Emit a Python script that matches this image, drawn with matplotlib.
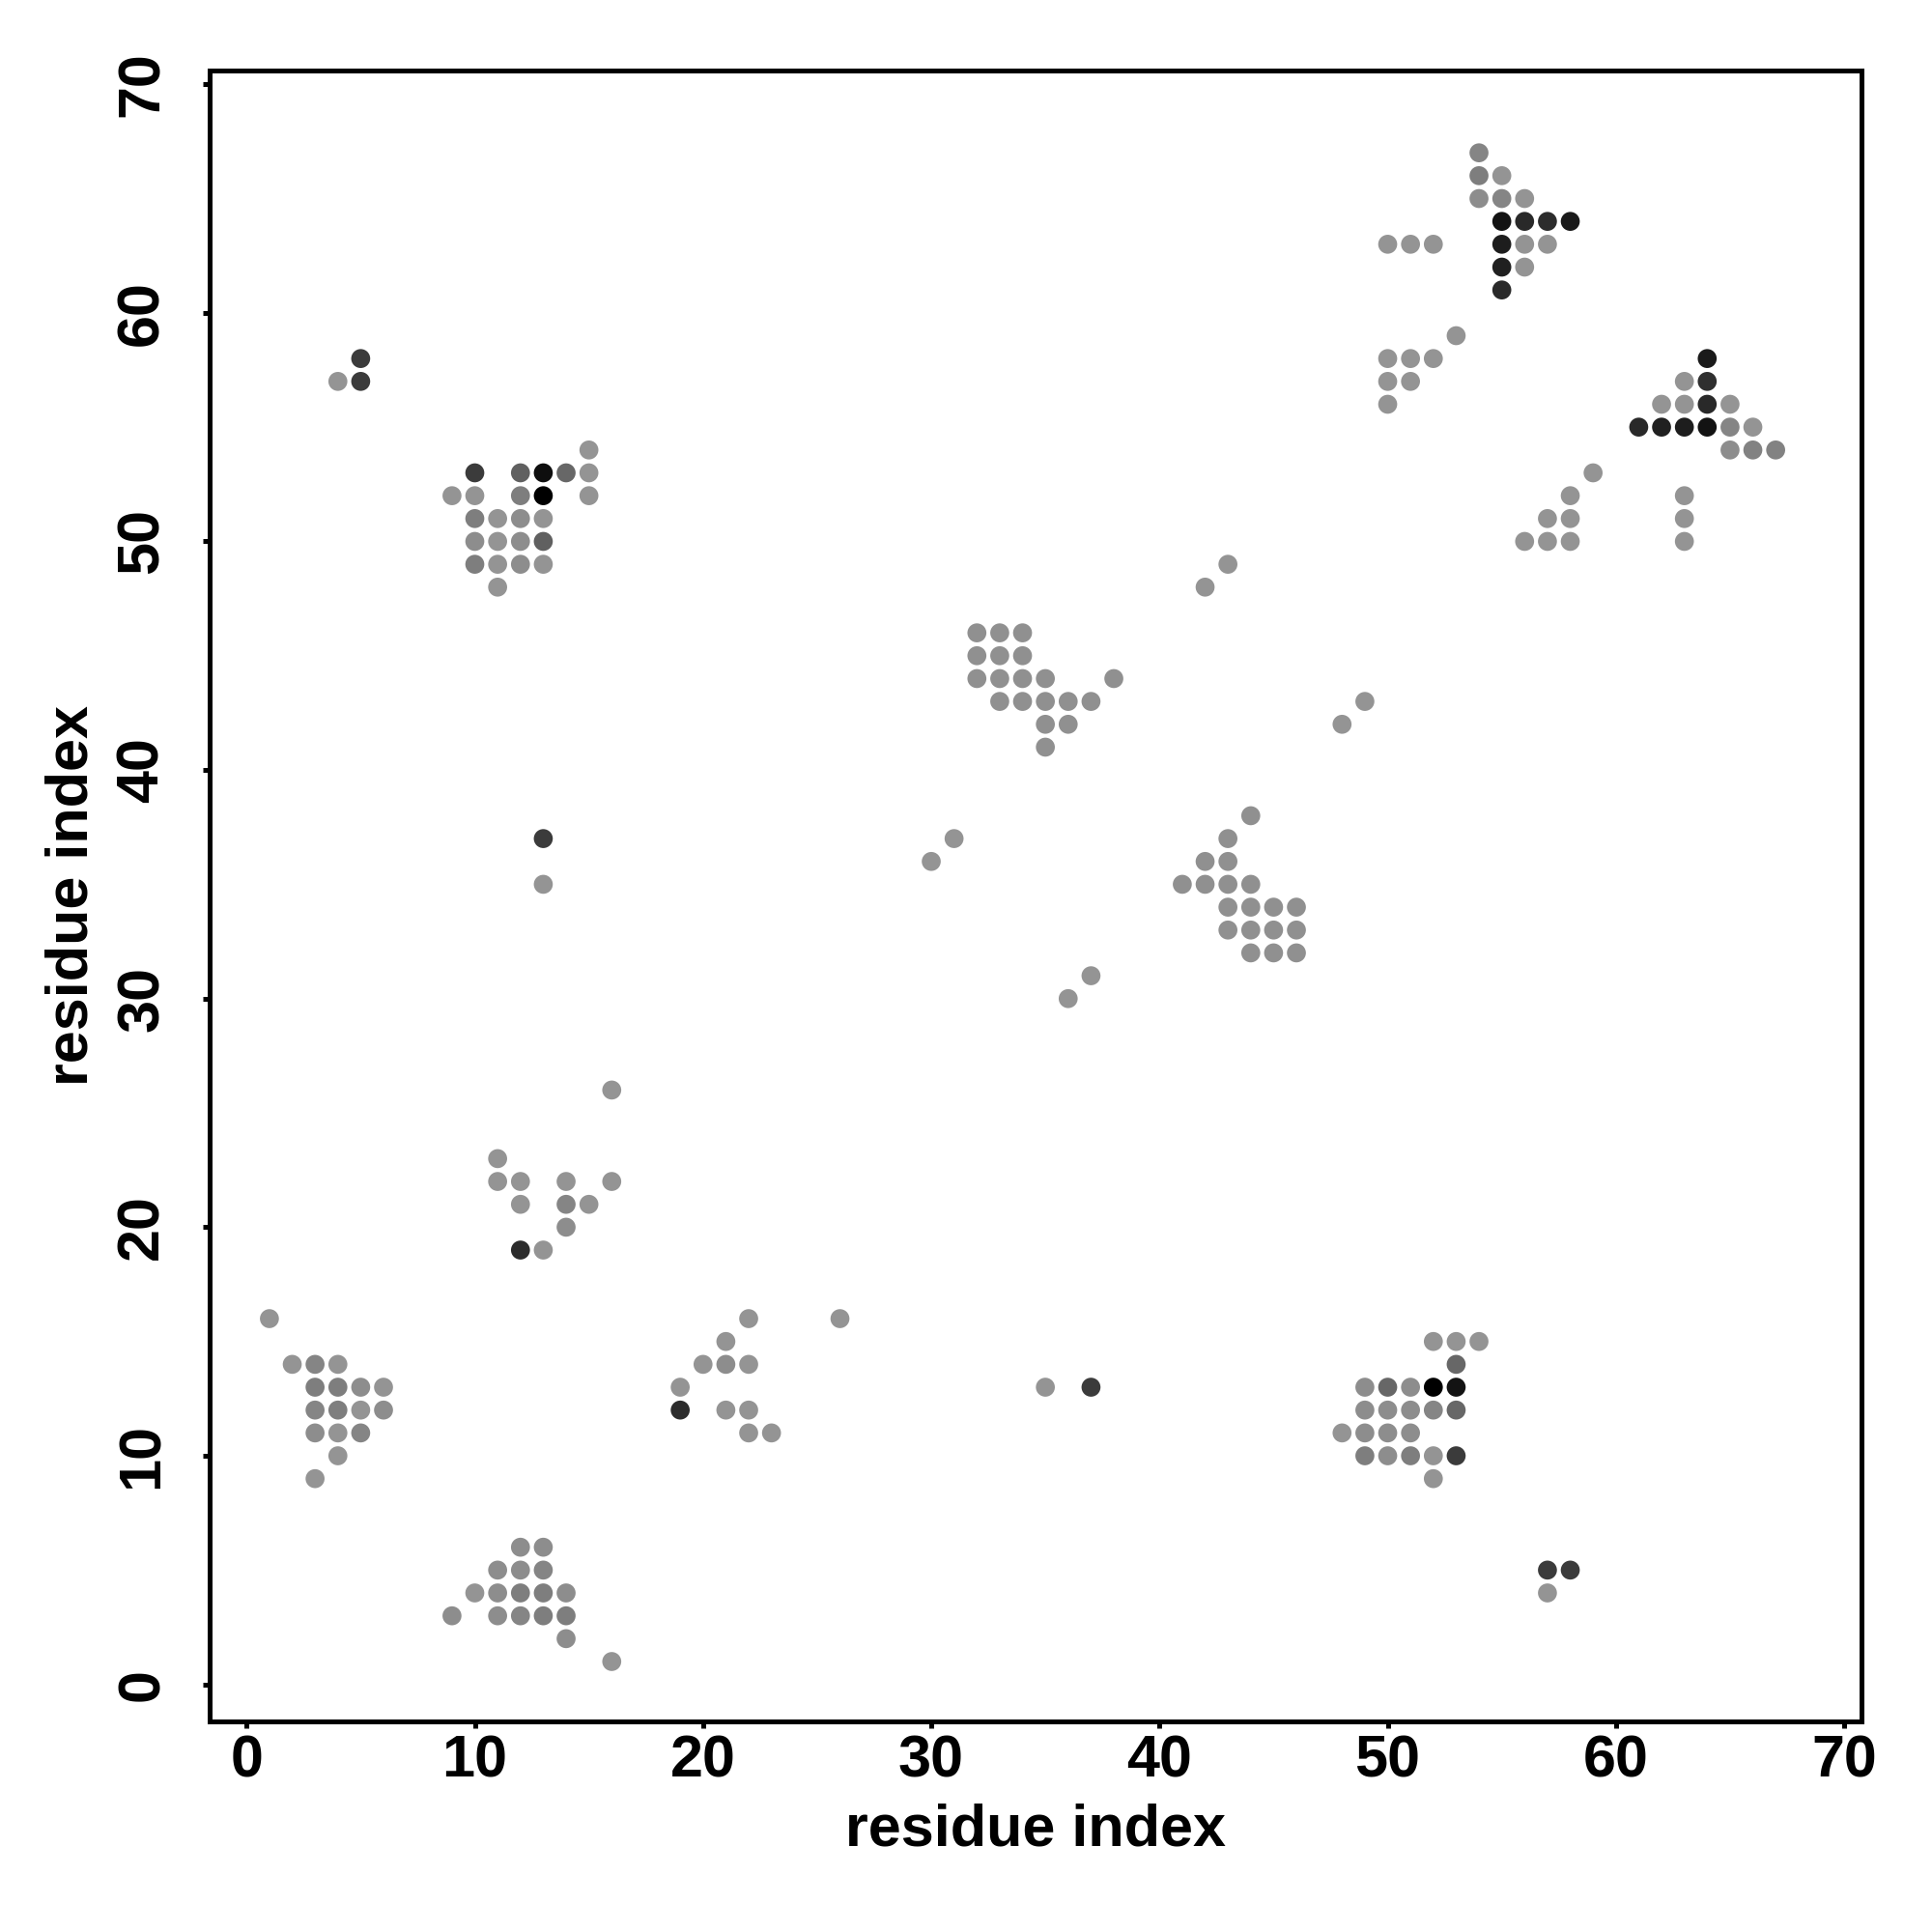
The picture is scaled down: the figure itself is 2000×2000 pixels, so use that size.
import matplotlib
matplotlib.use("Agg")
import matplotlib.pyplot as plt

plt.rcParams["font.family"] = ["Liberation Sans", "DejaVu Sans"]
plt.rcParams["font.weight"] = "bold"

# contact map: residue i, residue j, contact score (0 = weak/grey, 1 = strong/black)
res_i = [
    1, 2, 3, 4, 3, 4, 5, 6, 3, 4, 5, 6, 3, 4, 5, 4, 3,
    12, 13, 11, 12, 13, 10, 11, 12, 13, 14, 9, 11, 12, 13, 14, 14, 16,
    22, 26, 21, 20, 21, 22, 19, 19, 21, 22, 22, 23,
    35, 37,
    52, 53, 54, 53, 49, 50, 51, 52, 53, 49, 50, 51, 52, 53, 48, 49, 50, 51,
    49, 50, 51, 52, 53, 52, 57, 58, 57,
    5, 4, 5, 15, 10, 12, 13, 14, 15, 9, 10, 12, 13, 15, 10, 11, 12, 13,
    10, 11, 12, 13, 10, 11, 12, 13, 11, 13, 13,
    16, 11, 11, 12, 14, 16, 12, 14, 15, 14, 12, 13,
    32, 33, 34, 32, 33, 34, 32, 33, 34, 35, 38, 33, 34, 35, 36, 37, 35, 36, 35,
    44, 43, 42, 43, 41, 42, 43, 44, 43, 44, 45, 46, 43, 44, 45, 46, 44, 45, 46,
    30, 31, 36, 37, 42, 43, 48, 49,
    54, 54, 55, 54, 55, 56, 55, 56, 57, 58, 50, 51, 52, 55, 56, 57, 55, 56, 55,
    53, 50, 51, 52, 50, 51, 50,
    64, 63, 64, 62, 63, 64, 65, 61, 62, 63, 64, 65, 66, 65, 66, 67,
    59, 58, 63, 57, 58, 63, 56, 57, 58, 63,
]
res_j = [
    16, 14, 14, 14, 13, 13, 13, 13, 12, 12, 12, 12, 11, 11, 11, 10, 9,
    6, 6, 5, 5, 5, 4, 4, 4, 4, 4, 3, 3, 3, 3, 3, 2, 1,
    16, 16, 15, 14, 14, 14, 13, 12, 12, 12, 11, 11,
    13, 13,
    15, 15, 15, 14, 13, 13, 13, 13, 13, 12, 12, 12, 12, 12, 11, 11, 11, 11,
    10, 10, 10, 10, 10, 9, 5, 5, 4,
    58, 57, 57, 54, 53, 53, 53, 53, 53, 52, 52, 52, 52, 52, 51, 51, 51, 51,
    50, 50, 50, 50, 49, 49, 49, 49, 48, 37, 35,
    26, 23, 22, 22, 22, 22, 21, 21, 21, 20, 19, 19,
    46, 46, 46, 45, 45, 45, 44, 44, 44, 44, 44, 43, 43, 43, 43, 43, 42, 42, 41,
    38, 37, 36, 36, 35, 35, 35, 35, 34, 34, 34, 34, 33, 33, 33, 33, 32, 32, 32,
    36, 37, 30, 31, 48, 49, 42, 43,
    67, 66, 66, 65, 65, 65, 64, 64, 64, 64, 63, 63, 63, 63, 63, 63, 62, 62, 61,
    59, 58, 58, 58, 57, 57, 56,
    58, 57, 57, 56, 56, 56, 56, 55, 55, 55, 55, 55, 55, 54, 54, 54,
    53, 52, 52, 51, 51, 51, 50, 50, 50, 50,
]
score = [
    0, 0, 0.1, 0, 0.15, 0.15, 0.05, 0, 0.1, 0.15, 0, 0.05, 0.05, 0, 0.1, 0, 0,
    0.05, 0.05, 0.05, 0.05, 0.1, 0, 0.05, 0.15, 0.15, 0.05, 0.05, 0.05, 0.1, 0.15, 0.15, 0.05, 0,
    0, 0, 0, 0, 0.05, 0, 0, 0.7, 0, 0, 0, 0,
    0, 0.6,
    0, 0, 0, 0.3, 0.05, 0.3, 0.05, 1.0, 0.87, 0.05, 0.05, 0.05, 0.1, 0.3, 0, 0.05, 0.05, 0.05,
    0.15, 0.05, 0.15, 0, 0.6, 0, 0.6, 0.6, 0,
    0.6, 0, 0.6, 0, 0.6, 0.35, 0.9, 0.3, 0, 0, 0, 0.15, 1.0, 0, 0.15, 0, 0.05, 0,
    0.05, 0, 0.05, 0.35, 0.15, 0, 0.05, 0, 0, 0.6, 0,
    0, 0, 0, 0, 0, 0, 0, 0.1, 0, 0.05, 0.7, 0,
    0.03, 0.03, 0.03, 0.03, 0.03, 0.03, 0.03, 0.03, 0.03, 0.03, 0.03, 0.03, 0.03, 0.03, 0.03, 0.03, 0.03, 0.03, 0.03,
    0.03, 0.03, 0.03, 0.03, 0.03, 0.03, 0.03, 0.03, 0.03, 0.03, 0.03, 0.03, 0.03, 0.03, 0.03, 0.03, 0.03, 0.03, 0.03,
    0, 0, 0, 0, 0, 0, 0, 0,
    0.1, 0.15, 0, 0.05, 0.1, 0, 0.87, 0.72, 0.7, 0.82, 0, 0, 0, 0.8, 0, 0, 0.78, 0, 0.72,
    0, 0, 0, 0, 0, 0, 0,
    0.82, 0, 0.68, 0, 0, 0.72, 0, 0.72, 0.78, 0.8, 0.87, 0.1, 0, 0.05, 0.12, 0.12,
    0, 0, 0, 0, 0, 0, 0, 0, 0, 0,
]

colors = [plt.cm.gray(0.58 * (1 - s)) for s in score]

fig = plt.figure(figsize=(10, 10), dpi=200)
ax = fig.add_axes([0.1085, 0.109, 0.855, 0.8545])
ax.scatter(res_i, res_j, c=colors, s=50, linewidths=0)

ax.set_xlim(-1.62, 70.76)
ax.set_ylim(-1.62, 70.6)
ax.set_xticks(range(0, 71, 10))
ax.set_yticks(range(0, 71, 10))
for sp in ax.spines.values():
    sp.set_linewidth(1.8)
ax.tick_params(axis="both", length=2.5, width=1.8, labelsize=22)
ax.tick_params(axis="x", pad=2.5)
ax.tick_params(axis="y", pad=12)
plt.setp(ax.get_yticklabels(), rotation=90, va="center")

ax.set_xlabel("residue index", fontsize=22, fontweight="bold", labelpad=5)
ax.set_ylabel("residue index", fontsize=22, fontweight="bold", labelpad=6)

fig.savefig("out.png", dpi=200)
